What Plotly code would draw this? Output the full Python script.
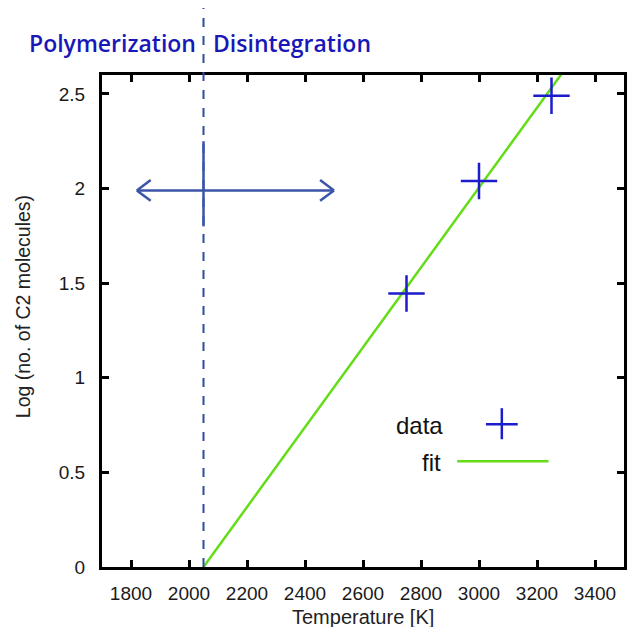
import plotly.graph_objects as go

# data
temps = [2750, 3000, 3250]
log_c2 = [1.445, 2.04, 2.49]
fit_T = [2050, 3500]
fit_y = [0.0, 3.06]
boundary_T = 2050
arrow_T = [1820, 2500]
arrow_y = 1.99
cross_y = [1.8, 2.25]
x_ticks = [1800, 2000, 2200, 2400, 2600, 2800, 3000, 3200, 3400]
y_ticks = [0, 0.5, 1, 1.5, 2, 2.5]
y_tick_text = ["0", "0.5", "1", "1.5", "2", "2.5"]

BLUE = "#1c1ccc"
GREEN = "#64dc18"
ARROW = "#3a55a8"
HEAD = "#1818b8"
FONT = "Liberation Sans, Arial, sans-serif"

fig = go.Figure()
fig.add_trace(go.Scatter(x=fit_T, y=fit_y, mode="lines",
                         line=dict(color=GREEN, width=2.5), showlegend=False))
fig.add_trace(go.Scatter(x=temps, y=log_c2, mode="markers",
                         marker=dict(symbol="cross-thin", size=26,
                                     line=dict(color=BLUE, width=2.5)),
                         showlegend=False, cliponaxis=False))

shapes = []
# boundary dashed line
shapes.append(dict(type="line", xref="x", yref="paper", x0=boundary_T, x1=boundary_T,
                   y0=0, y1=1.136, line=dict(color="#2e4c9c", width=2, dash="dash")))
# solid vertical of the cross
shapes.append(dict(type="line", xref="x", yref="y", x0=boundary_T, x1=boundary_T,
                   y0=cross_y[0], y1=cross_y[1], line=dict(color=ARROW, width=2.5)))
# horizontal arrow line
shapes.append(dict(type="line", xref="x", yref="y", x0=arrow_T[0], x1=arrow_T[1],
                   y0=arrow_y, y1=arrow_y, line=dict(color=ARROW, width=2.5)))
# open chevron heads
head_dx = 48
head_dy = 0.055
for tip, sgn in ((arrow_T[0], 1), (arrow_T[1], -1)):
    for d in (1, -1):
        shapes.append(dict(type="line", xref="x", yref="y", x0=tip, y0=arrow_y,
                           x1=tip + sgn * head_dx, y1=arrow_y + d * head_dy,
                           line=dict(color=ARROW, width=2.5)))

# legend samples (paper coordinates)
def px2paper_x(px):
    return (px - 101.5) / (627 - 101.5)

def px2paper_y(py):
    return (566.7 - py) / (566.7 - 75)

shapes.append(dict(type="line", xref="paper", yref="paper",
                   x0=px2paper_x(459), x1=px2paper_x(551),
                   y0=px2paper_y(461), y1=px2paper_y(461),
                   line=dict(color=GREEN, width=2.5)))
shapes.append(dict(type="line", xref="paper", yref="paper",
                   x0=px2paper_x(488), x1=px2paper_x(520),
                   y0=px2paper_y(424), y1=px2paper_y(424),
                   line=dict(color=BLUE, width=2.5)))
shapes.append(dict(type="line", xref="paper", yref="paper",
                   x0=px2paper_x(504), x1=px2paper_x(504),
                   y0=px2paper_y(408), y1=px2paper_y(439),
                   line=dict(color=BLUE, width=2.5)))

annotations = []
# region labels
annotations.append(dict(x=px2paper_x(198), y=px2paper_y(43), xref="paper", yref="paper",
                        text="Polymerization", showarrow=False, xanchor="right",
                        yanchor="middle", font=dict(family="Open Sans, sans-serif", size=23,
                                                    color=HEAD, weight=600)))
annotations.append(dict(x=px2paper_x(211), y=px2paper_y(43), xref="paper", yref="paper",
                        text="Disintegration", showarrow=False, xanchor="left",
                        yanchor="middle", font=dict(family="Open Sans, sans-serif", size=23,
                                                    color=HEAD, weight=600)))
# legend texts
annotations.append(dict(x=px2paper_x(447), y=px2paper_y(425), xref="paper", yref="paper",
                        text="data", showarrow=False, xanchor="right", yanchor="middle",
                        font=dict(family=FONT, size=24, color="#111")))
annotations.append(dict(x=px2paper_x(445), y=px2paper_y(462), xref="paper", yref="paper",
                        text="fit", showarrow=False, xanchor="right", yanchor="middle",
                        font=dict(family=FONT, size=24, color="#111")))
# axis titles
annotations.append(dict(x=0.5, y=px2paper_y(617), xref="paper", yref="paper",
                        text="Temperature [K]", showarrow=False, xanchor="center",
                        yanchor="middle", font=dict(family=FONT, size=20, color="#222")))
annotations.append(dict(x=px2paper_x(22), y=px2paper_y(307), xref="paper", yref="paper",
                        text="Log (no. of C2 molecules)", showarrow=False, textangle=-90,
                        xanchor="center", yanchor="middle",
                        font=dict(family=FONT, size=19.5, color="#222")))

axis_common = dict(showgrid=False, zeroline=False, showline=True, linecolor="black",
                   linewidth=3, mirror="ticks", ticks="inside", ticklen=7, tickwidth=3,
                   tickcolor="black", tickfont=dict(family=FONT, size=19, color="#1a1a1a"))

fig.update_layout(
    width=630, height=627,
    margin=dict(l=101.5, r=3, t=75, b=60.3),
    paper_bgcolor="white", plot_bgcolor="white",
    xaxis=dict(range=[1700, 3500], tickvals=x_ticks, ticklabelstandoff=7, **axis_common),
    yaxis=dict(range=[0, 2.6], tickvals=y_ticks, ticktext=y_tick_text,
               ticklabelstandoff=10, **axis_common),
    shapes=shapes, annotations=annotations, showlegend=False,
)

fig.write_html("out.html")
